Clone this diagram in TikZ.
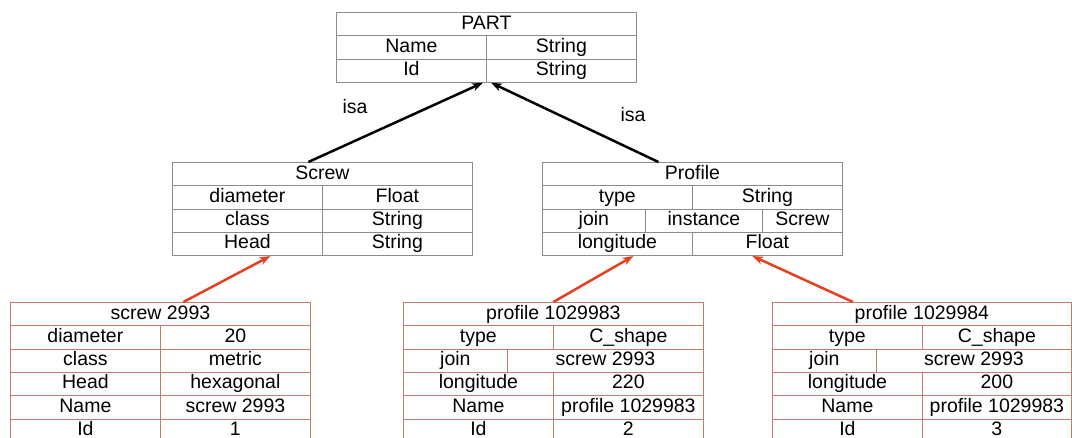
\documentclass[tikz,border=0pt]{standalone}
\usepackage{fontspec}
\setmainfont{Liberation Sans}
\usetikzlibrary{arrows.meta}
\definecolor{boxgray}{HTML}{8C8C8C}
\definecolor{instbrown}{HTML}{C27B6E}
\definecolor{linkred}{HTML}{E8401F}

\begin{document}
\begin{tikzpicture}[x=1pt,y=-1pt,
        cell/.style={draw=boxgray,line width=0.8pt,fill=white,anchor=north west,inner sep=0pt,
            minimum height=23.3pt,text height=14pt,text depth=4pt,font=\fontsize{19.5}{22}\selectfont},
        inst/.style={cell,draw=instbrown},
        isa/.style={-{Stealth[length=11pt,width=8pt]},line width=2.5pt},
        inof/.style={-{Stealth[length=11pt,width=8pt]},line width=2.5pt,linkred}]
    \path[use as bounding box,clip] (0,0) rectangle (1072,437);

    % classes
    \node[cell,minimum width=300pt] (part) at (336,12) {PART};
    \foreach \i/\a/\b in {1/Name/String,2/Id/String}{
        \node[cell,minimum width=150pt] (part-\i-a) at (336,{12+23.3*\i}) {\a};
        \node[cell,minimum width=150pt] (part-\i-b) at (486,{12+23.3*\i}) {\b};
    }

    \node[cell,minimum width=300pt] (screw) at (172,162) {Screw};
    \foreach \i/\a/\b in {1/diameter/Float,2/class/String,3/Head/String}{
        \node[cell,minimum width=150pt] (screw-\i-a) at (172,{162+23.3*\i}) {\a};
        \node[cell,minimum width=150pt] (screw-\i-b) at (322,{162+23.3*\i}) {\b};
    }

    \node[cell,minimum width=300pt] (profile) at (542,162) {Profile};
    \node[cell,minimum width=150pt] (profile-1-a) at (542,185.3) {type};
    \node[cell,minimum width=150pt] (profile-1-b) at (692,185.3) {String};
    \node[cell,minimum width=103pt] (profile-2-a) at (542,208.6) {join};
    \node[cell,minimum width=117pt] (profile-2-b) at (645,208.6) {instance};
    \node[cell,minimum width=80pt] (profile-2-c) at (762,208.6) {Screw};
    \node[cell,minimum width=150pt] (profile-3-a) at (542,231.9) {longitude};
    \node[cell,minimum width=150pt] (profile-3-b) at (692,231.9) {Float};

    % instances
    \node[inst,minimum width=300pt] (scr) at (10,302) {screw 2993};
    \foreach \i/\a/\b in {1/diameter/20,2/class/metric,3/Head/hexagonal,4/Name/screw 2993,5/Id/1}{
        \node[inst,minimum width=150pt] (scr-\i-a) at (10,{302+23.3*\i}) {\a};
        \node[inst,minimum width=150pt] (scr-\i-b) at (160,{302+23.3*\i}) {\b};
    }

    \node[inst,minimum width=300pt] (prfa) at (403,302) {profile 1029983};
    \foreach \i/\a/\b in {1/type/C\_shape,3/longitude/220,4/Name/profile 1029983,5/Id/2}{
        \node[inst,minimum width=150pt] (prfa-\i-a) at (403,{302+23.3*\i}) {\a};
        \node[inst,minimum width=150pt] (prfa-\i-b) at (553,{302+23.3*\i}) {\b};
    }
    \node[inst,minimum width=104pt] (prfa-2-a) at (403,348.6) {join};
    \node[inst,minimum width=196pt] (prfa-2-b) at (507,348.6) {screw 2993};

    \node[inst,minimum width=299pt] (prfb) at (772,302) {profile 1029984};
    \foreach \i/\a/\b in {1/type/C\_shape,3/longitude/200,4/Name/profile 1029983,5/Id/3}{
        \node[inst,minimum width=150pt] (prfb-\i-a) at (772,{302+23.3*\i}) {\a};
        \node[inst,minimum width=149pt] (prfb-\i-b) at (922,{302+23.3*\i}) {\b};
    }
    \node[inst,minimum width=104pt] (prfb-2-a) at (772,348.6) {join};
    \node[inst,minimum width=195pt] (prfb-2-b) at (876,348.6) {screw 2993};

    % links
    \node[font=\fontsize{19.5}{22}\selectfont] (isaleft) at (355,107) {isa};
    \node[font=\fontsize{19.5}{22}\selectfont] (isaright) at (633,115) {isa};
    \draw[isa] ([xshift=-14pt]screw.north) -- ([xshift=-3pt]part-2-b.south west);
    \draw[isa] ([xshift=-34pt]profile.north) -- ([xshift=5pt]part-2-b.south west);
    \draw[inof] ([xshift=23pt]scr.north) -- ([xshift=23pt]screw-3-a.south);
    \draw[inof] (prfa.north) -- ([xshift=16pt]profile-3-a.south);
    \draw[inof] ([xshift=-69pt]prfb.north) -- ([xshift=-15pt]profile-3-b.south);
\end{tikzpicture}
\end{document}
